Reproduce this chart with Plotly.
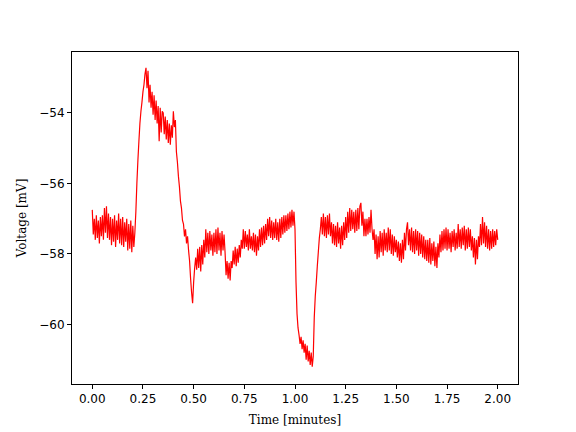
import numpy as np
import plotly.graph_objects as go

# Time axis: sampling grid, 0.005 minute step (0 .. 2 minutes)
time_step = 0.005

# Voltage readings [mV], 0.005-minute spacing
volt_0_05 = [
    -56.75, -57.45, -57.0, -57.6, -56.9, -57.55, -57.05, -57.7, -56.95, -57.5,
    -56.9, -57.6, -56.7, -57.4, -56.65, -57.55, -56.85, -57.6, -56.95, -57.75,
    -57.0, -57.65, -56.9, -57.8, -57.05, -57.6, -56.85, -57.7, -57.0, -57.75,
    -56.95, -57.8, -57.1, -57.65, -57.0, -57.9, -57.15, -57.85, -57.05, -57.95,
    -57.2, -57.8, -57.4, -56.8, -56.0, -55.35, -54.8, -54.3, -53.95, -53.7,
    -53.4, -53.2, -52.9, -52.72, -53.3, -52.8, -53.7, -53.2, -53.85, -53.4,
    -54.05, -53.5, -54.2, -53.65, -54.3, -53.8, -54.8, -53.85, -54.55, -53.95,
    -54.0, -54.6, -54.1, -54.75, -54.2, -54.85, -54.3, -54.9, -54.35, -54.7,
    -53.95, -54.4, -54.2, -55.1, -55.4, -55.8, -56.1, -56.5, -56.7, -57.05,
    -57.15, -57.5, -57.3, -57.7, -57.5, -57.9, -58.2, -58.7, -59.1, -59.4,
]
volt_05_10 = [
    -58.8, -58.4, -58.1, -58.45, -57.85, -58.4, -57.8, -58.5, -57.75, -58.3,
    -57.6, -58.1, -57.3, -57.95, -57.4, -58.0, -57.35, -57.9, -57.45, -58.05,
    -57.4, -57.95, -57.3, -58.0, -57.25, -57.9, -57.4, -58.05, -57.35, -57.9,
    -57.45, -57.95, -58.6, -58.2, -58.7, -58.25, -58.75, -58.2, -58.4, -57.9,
    -58.3, -57.8, -58.35, -57.85, -58.25, -57.75, -58.1, -57.6, -57.85, -57.3,
    -57.85, -57.35, -57.8, -57.45, -57.9, -57.3, -57.85, -57.5, -57.9, -57.4,
    -57.95, -57.45, -58.05, -57.5, -57.9, -57.3, -57.8, -57.25, -57.75, -57.2,
    -57.7, -57.15, -57.6, -57.0, -57.5, -56.95, -57.55, -57.05, -57.6, -57.1,
    -57.55, -57.0, -57.6, -57.1, -57.65, -57.0, -57.55, -56.95, -57.45, -56.9,
    -57.4, -56.9, -57.35, -56.85, -57.3, -56.8, -57.25, -56.75, -57.2, -56.8,
]
volt_10_15 = [
    -57.3, -58.8, -59.7, -60.1, -60.3, -60.55, -60.35, -60.7, -60.45, -60.8,
    -60.55, -61.0, -60.6, -61.05, -60.75, -61.15, -60.8, -61.2, -60.9, -59.8,
    -59.2, -58.8, -58.35, -57.95, -57.55, -57.3, -56.95, -57.45, -56.85, -57.5,
    -56.95, -57.55, -56.9, -57.45, -56.85, -57.5, -57.1, -57.7, -57.15, -57.75,
    -57.2, -57.8, -57.1, -57.7, -57.25, -57.85, -57.2, -57.75, -57.1, -57.6,
    -56.95, -57.55, -56.8, -57.4, -56.7, -57.35, -56.75, -57.3, -56.8, -57.4,
    -56.75, -57.35, -56.7, -57.3, -56.65, -56.55, -57.2, -56.8, -57.5, -57.0,
    -57.5, -57.0, -57.45, -56.95, -57.4, -56.75, -57.3, -57.6, -57.3, -58.0,
    -57.45, -58.15, -57.5, -58.1, -57.35, -57.95, -57.4, -58.05, -57.3, -57.9,
    -57.4, -57.95, -57.25, -57.9, -57.3, -58.0, -57.45, -58.05, -57.5, -57.95,
]
volt_15_20 = [
    -57.6, -58.1, -57.65, -58.2, -57.7, -58.25, -57.6, -58.15, -57.4, -57.9,
    -57.3, -57.1, -57.75, -57.3, -57.9, -57.25, -57.95, -57.35, -58.0, -57.3,
    -57.9, -57.35, -58.05, -57.4, -58.0, -57.45, -58.1, -57.5, -58.15, -57.6,
    -58.2, -57.6, -58.25, -57.55, -58.3, -57.7, -58.2, -57.65, -58.35, -57.8,
    -58.4, -57.7, -58.1, -57.45, -57.95, -57.35, -57.9, -57.3, -57.85, -57.25,
    -57.9, -57.3, -57.85, -57.4, -57.95, -57.35, -57.8, -57.3, -57.9, -57.4,
    -57.85, -57.15, -57.8, -57.3, -57.85, -57.25, -57.75, -57.2, -57.9, -57.3,
    -57.85, -57.25, -57.8, -57.3, -57.9, -57.5, -58.1, -57.55, -58.3, -57.6,
    -58.15, -57.5, -57.8, -57.15, -57.75, -56.95, -57.7, -57.1, -57.8, -57.2,
    -57.85, -57.3, -57.9, -57.35, -57.85, -57.3, -57.8, -57.35, -57.75, -57.3,
    -57.6,
]

x_ticks = [0.0, 0.25, 0.5, 0.75, 1.0, 1.25, 1.5, 1.75, 2.0]
y_ticks = [-54, -56, -58, -60]

voltage = volt_0_05 + volt_05_10 + volt_10_15 + volt_15_20
time_min = np.arange(len(voltage)) * time_step

fig = go.Figure()
fig.add_trace(go.Scatter(
    x=time_min, y=voltage, mode="lines",
    line=dict(color="#ff0000", width=1.2, simplify=False),
    showlegend=False, hoverinfo="skip",
))

axis_common = dict(
    showline=True, linecolor="black", linewidth=1, mirror=True,
    ticks="outside", ticklen=4, tickwidth=1, tickcolor="black",
    showgrid=False, zeroline=False, automargin=False,
    tickfont=dict(family="DejaVu Sans", size=12, color="black"),
)

# page body has an 8 px margin: shrink the figure and shift margins accordingly
fig.update_layout(
    width=568, height=424,
    margin=dict(l=64, r=57.6, t=43.8, b=47.5),
    paper_bgcolor="white", plot_bgcolor="white",
    xaxis=dict(
        range=[-0.1, 2.1], tickvals=x_ticks, tickformat=".2f",
        title=dict(text="Time [minutes]", font=dict(family="DejaVu Serif", size=12, color="black"), standoff=10),
        **axis_common,
    ),
    yaxis=dict(
        range=[-61.69, -52.27], tickvals=y_ticks,
        title=dict(text="Voltage [mV]", font=dict(family="DejaVu Serif", size=12, color="black"), standoff=10),
        **axis_common,
    ),
)

fig.write_html("out.html")
